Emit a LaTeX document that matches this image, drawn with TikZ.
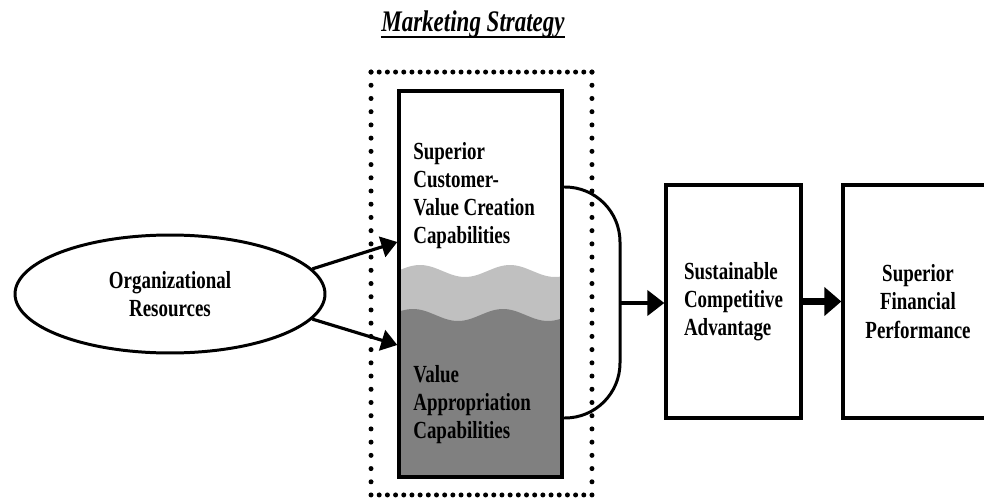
\documentclass[tikz,border=0pt]{standalone}
\usepackage{fontspec}
\newfontfamily\figfont[FakeStretch=0.77]{Liberation Serif}
\usetikzlibrary{arrows.meta,shapes.geometric}
\definecolor{wavelight}{HTML}{C0C0C0}
\definecolor{wavedark}{HTML}{808080}
\tikzset{
	lbl/.style={font=\figfont\fontsize{14}{16}\selectfont\bfseries, inner sep=0pt},
	box/.style={draw, line width=1.9pt},
	hdots/.style={line width=0.1cm, line cap=round, dash pattern=on 0pt off 0.1637cm},
	vdots/.style={line width=0.1cm, line cap=round, dash pattern=on 0pt off 0.2644cm},
	feed/.style={line width=1.8pt, -{Triangle[length=0.32cm, width=0.42cm]}},
}

\begin{document}
\begin{tikzpicture}[x=0.02cm, y=-0.02cm]
		%%%%% START %%%%%
		\useasboundingbox (0,0) rectangle (984,500);
		
		\node[font=\figfont\fontsize{17}{20}\selectfont\bfseries\itshape, inner sep=0pt, anchor=base] (title) at (473,32) {Marketing Strategy};
		\draw[line width=1.3pt] ([yshift=-2.8pt]title.base west) -- ([yshift=-2.8pt]title.base east);
		
		\node[ellipse, draw, line width=1.7pt, minimum width=6.2cm, minimum height=2.36cm, align=center, lbl] (org) at (170,294) {Organizational\\Resources};
		
		\fill[wavelight] (399,477) -- plot[domain=399:562, samples=60, smooth] (\x, {271-6*cos((\x-420)*4)}) -- (562,477) -- cycle;
		\fill[wavedark] (399,477) -- plot[domain=399:562, samples=60, smooth] (\x, {315-6*cos((\x-413)*4)}) -- (562,477) -- cycle;
		\node[box, minimum width=3.26cm, minimum height=7.72cm] (cap) at (480.5,284) {};
		\node[lbl, anchor=north west, align=left] (create) at (413,142) {Superior\\Customer-\\Value Creation\\Capabilities};
		\node[lbl, anchor=north west, align=left] (approp) at (413,365) {Value\\Appropriation\\Capabilities};
		
		\node[minimum width=4.42cm, minimum height=8.46cm, inner sep=0pt, outer sep=0pt] (strat) at (481.5,283.5) {};
		\draw[hdots] (strat.north west) -- (strat.north east);
		\draw[hdots] (strat.south west) -- (strat.south east);
		\draw[vdots] (strat.north west) -- (strat.south west);
		\draw[vdots] (strat.north east) -- (strat.south east);
		
		\node[box, lbl, minimum width=2.7cm, minimum height=4.66cm, align=left] (sca) at (733.5,301.5) {Sustainable\\Competitive\\Advantage};
		\node[box, lbl, minimum width=3cm, minimum height=4.66cm, align=center] (sfp) at (918,301.5) {Superior\\Financial\\Performance};
		
		\draw[feed] (org.10) -- (cap.west |- 0,242);
		\draw[feed] (org.-10) -- (cap.west |- 0,345);
		
		\coordinate (jtop) at (cap.east |- 0,187);
		\coordinate (jbot) at (cap.east |- 0,418);
		\coordinate (join) at (620,303);
		\draw[line width=1.7pt, rounded corners=1.1cm] (jtop) -| (join) |- (jbot);
		\draw[line width=2.3pt, -{Triangle[length=0.34cm, width=0.5cm]}] (join) -- (join -| sca.west);
		\draw[line width=3.6pt, -{Triangle[length=0.34cm, width=0.56cm]}] (sca) -- (sfp);
		%%%%% END %%%%%
\end{tikzpicture}
\end{document}
